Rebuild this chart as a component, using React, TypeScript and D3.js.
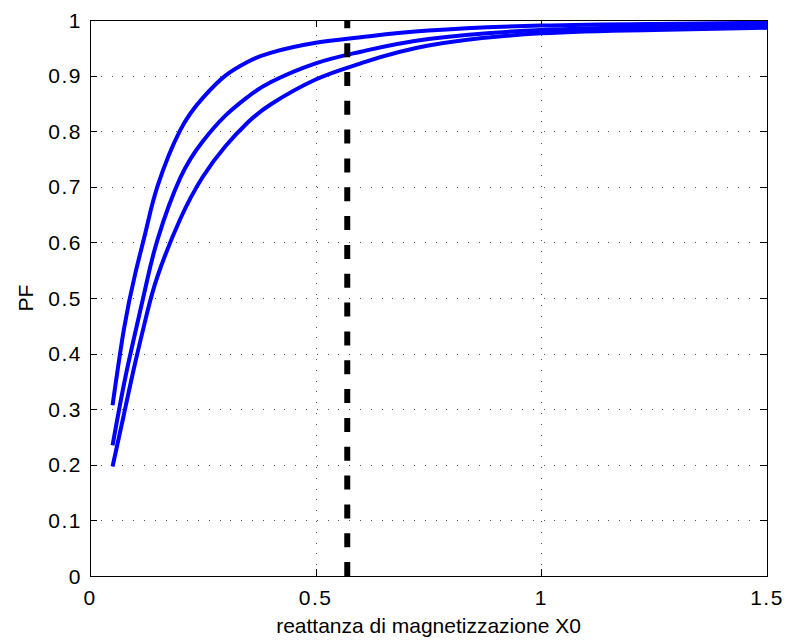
import React from 'react';
import * as d3 from 'd3';

// reattanza di magnetizzazione X0 (sample points)
const x0Values = [0.05, 0.075, 0.1, 0.125, 0.15, 0.2, 0.25, 0.3, 0.35, 0.4, 0.5, 0.6, 0.75, 1.0, 1.25, 1.5];
const pfHigh = [0.307, 0.443, 0.543, 0.625, 0.702, 0.802, 0.860, 0.900, 0.925, 0.941, 0.959, 0.969, 0.981, 0.990, 0.993, 0.995];
const pfMid = [0.235, 0.344, 0.437, 0.526, 0.606, 0.716, 0.782, 0.828, 0.862, 0.888, 0.922, 0.943, 0.966, 0.982, 0.987, 0.990];
const pfLow = [0.197, 0.290, 0.383, 0.468, 0.540, 0.642, 0.718, 0.773, 0.816, 0.848, 0.893, 0.922, 0.954, 0.976, 0.982, 0.986];
const series = [pfHigh, pfMid, pfLow];

const xTicks = [0, 0.5, 1, 1.5];
const yTicks = [0, 0.1, 0.2, 0.3, 0.4, 0.5, 0.6, 0.7, 0.8, 0.9, 1];
const markerX = 0.57;

const W = 787, H = 643;
const left = 90, right = 767, top = 20, bottom = 576;
const font = '"Liberation Sans", Arial, Helvetica, sans-serif';

export default function App() {
  const x = d3.scaleLinear().domain([0, 1.5]).range([left, right]);
  const y = d3.scaleLinear().domain([0, 1]).range([bottom, top]);

  const line = d3.line<number>()
    .x((_, i) => x(x0Values[i]))
    .y(d => y(d))
    .curve(d3.curveNatural);

  const fmt = (v: number) => String(v);
  const tick = 7;

  return (
    <svg width={W} height={H} style={{position: 'absolute', left: 0, top: 0, background: '#fff'}}>
      <rect x={0} y={0} width={W} height={H} fill="#fff"/>
      {/* grid */}
      <g stroke="#555" strokeWidth={1} strokeDasharray="1,9.8" shapeRendering="crispEdges">
        {yTicks.slice(1).map(t => (
          <line key={'gy' + t} x1={left} x2={right} y1={Math.round(y(t)) + 0.5} y2={Math.round(y(t)) + 0.5}/>
        ))}
        {xTicks.slice(1, -1).map(t => (
          <line key={'gx' + t} x1={Math.round(x(t)) + 0.5} x2={Math.round(x(t)) + 0.5} y1={bottom} y2={top}/>
        ))}
      </g>
      {/* curves */}
      <g fill="none" stroke="#0000ff" strokeWidth={4} strokeLinecap="butt" strokeLinejoin="round">
        {series.map((s, i) => <path key={i} d={line(s) || ''}/>)}
      </g>
      {/* vertical dashed marker */}
      <line x1={x(markerX)} x2={x(markerX)} y1={y(1)} y2={y(0)}
            stroke="#000" strokeWidth={6} strokeDasharray="14,14.83" strokeDashoffset={5.7}/>
      {/* box */}
      <rect x={left + 0.5} y={top + 0.5} width={right - left} height={bottom - top}
            fill="none" stroke="#000" strokeWidth={1} shapeRendering="crispEdges"/>
      {/* ticks */}
      <g stroke="#000" strokeWidth={1} shapeRendering="crispEdges">
        {xTicks.map(t => (
          <g key={'tx' + t}>
            <line x1={Math.round(x(t)) + 0.5} x2={Math.round(x(t)) + 0.5} y1={bottom} y2={bottom - tick}/>
            <line x1={Math.round(x(t)) + 0.5} x2={Math.round(x(t)) + 0.5} y1={top} y2={top + tick}/>
          </g>
        ))}
        {yTicks.map(t => (
          <g key={'ty' + t}>
            <line x1={left} x2={left + tick} y1={Math.round(y(t)) + 0.5} y2={Math.round(y(t)) + 0.5}/>
            <line x1={right} x2={right - tick} y1={Math.round(y(t)) + 0.5} y2={Math.round(y(t)) + 0.5}/>
          </g>
        ))}
      </g>
      {/* tick labels */}
      <g fontFamily={font} fontSize={21} fill="#000" letterSpacing={1.5}>
        {xTicks.map(t => (
          <text key={'lx' + t} x={x(t)} y={605} textAnchor="middle">{fmt(t)}</text>
        ))}
        {yTicks.map(t => (
          <text key={'ly' + t} x={82} y={y(t) + 7.5} textAnchor="end">{fmt(t)}</text>
        ))}
      </g>
      {/* axis labels */}
      <text x={x(0.75)} y={633} textAnchor="middle" fontFamily={font} fontSize={21} fill="#000">
        reattanza di magnetizzazione X0
      </text>
      <text transform={`translate(33,${(top + bottom) / 2}) rotate(-90)`} textAnchor="middle"
            fontFamily={font} fontSize={21} fill="#000">PF</text>
    </svg>
  );
}
